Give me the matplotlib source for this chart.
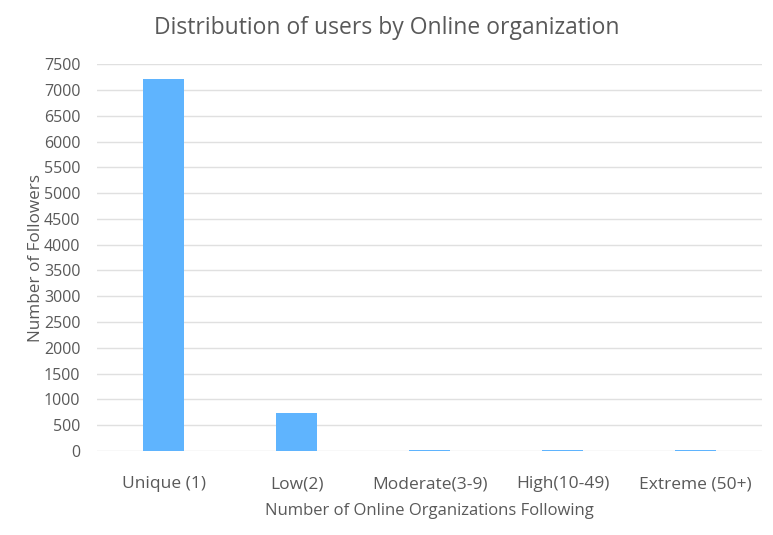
import matplotlib
matplotlib.use("Agg")
import matplotlib.pyplot as plt

categories = ["Unique (1)", "Low(2)", "Moderate(3-9)", "High(10-49)", "Extreme (50+)"]
values = [7220, 740, 25, 22, 20]
yticks = list(range(0, 7501, 500))

plt.rcParams['font.family'] = ['Open Sans', 'DejaVu Sans']
fig = plt.figure(figsize=(7.73, 5.35), dpi=100)
ax = fig.add_axes([0.1255, 0.157, 0.8605, 0.723])
x = list(range(len(categories)))
ax.bar(x, values, width=0.31, color="#5fb4fe", zorder=3)
ax.set_xlim(-0.5, len(categories) - 0.5)
ax.set_ylim(0, 7500)
ax.set_yticks(yticks)
ax.set_xticks(x)
ax.set_xticklabels(categories)
ax.grid(axis='y', color="#e0e0e0", linewidth=1, zorder=0)
for s in ax.spines.values():
    s.set_visible(False)
ax.tick_params(axis='x', length=0, labelsize=12.5, colors="#595959", pad=18)
ax.tick_params(axis='y', length=0, labelsize=11.5, colors="#595959", pad=12)
ax.set_xlabel("Number of Online Organizations Following", fontsize=12, color="#595959", labelpad=8)
ax.set_ylabel("Number of Followers", fontsize=12.3, color="#595959", labelpad=0)
fig.text(0.5, 0.948, "Distribution of users by Online organization", ha="center", va="center",
         fontsize=16.5, color="#595959")
fig.savefig("out.png", dpi=100)
